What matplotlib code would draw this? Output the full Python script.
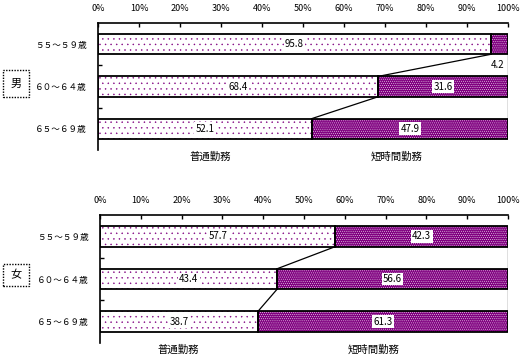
import numpy as np
import matplotlib.pyplot as plt
from matplotlib.patches import Rectangle

plt.rcParams['font.family'] = ['Noto Sans CJK JP', 'DejaVu Sans']
plt.rcParams['hatch.linewidth'] = 0.3

# data
ages = ["５５～５９歳", "６０～６４歳", "６５～６９歳"]
series = ["普通勤務", "短時間勤務"]
male_normal = [95.8, 68.4, 52.1]
male_short = [4.2, 31.6, 47.9]
female_normal = [57.7, 43.4, 38.7]
female_short = [42.3, 56.6, 61.3]
ticks = list(range(0, 101, 10))

W, H = 521, 358
fig = plt.figure(figsize=(W / 100, H / 100), dpi=100)

purple = "#800080"
bh = 0.48


def panel(rect, normal, short, gender, gbox, lab_y, lab_x):
    ax = fig.add_axes(rect)
    y = np.arange(len(ages))
    # normal: white with purple dots
    ax.barh(y, normal, height=bh, color="white", edgecolor=purple,
            hatch="...", linewidth=0)
    # short: purple with white dots
    ax.barh(y, short, left=normal, height=bh, color=purple, edgecolor="white",
            hatch="........", linewidth=0)
    # outlines
    ax.barh(y, normal, height=bh, fill=False, edgecolor="black", linewidth=1.3)
    ax.barh(y, short, left=normal, height=bh, fill=False, edgecolor="black",
            linewidth=1.3)
    # series lines
    for i in range(len(ages) - 1):
        ax.plot([normal[i], normal[i + 1]], [i + bh / 2, i + 1 - bh / 2],
                color="black", lw=0.9)
        ax.plot([100, 100], [i + bh / 2, i + 1 - bh / 2], color="black", lw=0.9)
    # labels
    box = dict(facecolor="white", edgecolor="none", pad=1)
    for i in range(len(ages)):
        ax.text(normal[i] / 2, i, f"{normal[i]:.1f}", ha="center", va="center",
                fontsize=7, bbox=box)
        if short[i] < 10:
            ax.text(99, i + 0.5, f"{short[i]:.1f}", ha="right", va="center",
                    fontsize=7)
        else:
            ax.text(normal[i] + short[i] / 2, i, f"{short[i]:.1f}", ha="center",
                    va="center", fontsize=7, bbox=box)
    ax.set_xlim(0, 100)
    ax.set_ylim(2.5, -0.5)
    ax.xaxis.tick_top()
    ax.set_xticks(ticks)
    ax.set_xticklabels([f"{t}%" for t in ticks], fontsize=6.5)
    ax.tick_params(axis="x", direction="in", length=3, pad=7, width=1)
    ax.set_yticks(y)
    ax.set_yticklabels(ages, fontsize=6.2)
    ax.tick_params(axis="y", length=0, pad=8)
    ax.set_yticks([0.5, 1.5], minor=True)
    ax.tick_params(axis="y", which="minor", direction="in", length=3, width=1)
    ax.spines["right"].set_visible(False)
    ax.spines["bottom"].set_visible(False)
    for s in ["top", "left"]:
        ax.spines[s].set_linewidth(1.2)
    # series names
    fig.text(lab_x[0] / W, 1 - lab_y / H, series[0], ha="center", va="center",
             fontsize=7.5)
    fig.text(lab_x[1] / W, 1 - lab_y / H, series[1], ha="center", va="center",
             fontsize=7.5)
    # gender box
    x0, y0, x1, y1 = gbox
    fig.patches.append(Rectangle((x0 / W, 1 - y1 / H), (x1 - x0) / W,
                                 (y1 - y0) / H, transform=fig.transFigure,
                                 fill=False, edgecolor="black", lw=1,
                                 linestyle=(0, (1, 1))))
    fig.text((x0 + x1) / 2 / W, 1 - (y0 + y1) / 2 / H, gender, ha="center",
             va="center", fontsize=8)
    return ax


panel([98 / W, 1 - 150 / H, 410 / W, 127 / H], male_normal, male_short, "男",
      (3, 70, 29, 97), 157, (210, 397))
panel([100 / W, 1 - 343 / H, 408 / W, 128 / H], female_normal, female_short, "女",
      (3, 264, 29, 286), 350, (178, 374))

fig.savefig("out.png", dpi=100)
